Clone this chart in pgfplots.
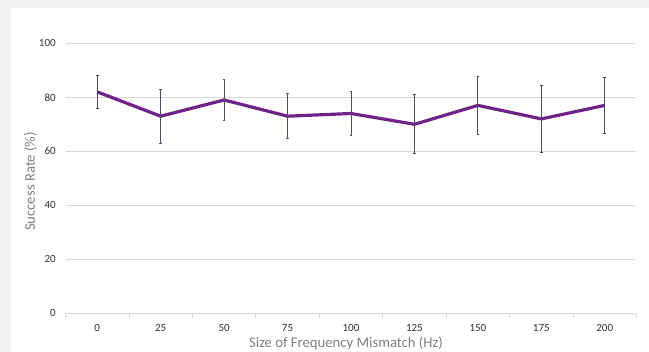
\documentclass[border=0pt]{standalone}
\usepackage{pgfplots}
\pgfplotsset{compat=1.18}
\usepackage{fontspec}
\setmainfont{Carlito}
\definecolor{bggray}{RGB}{242,242,242}
\definecolor{gridgray}{RGB}{217,217,217}
\definecolor{linepurple}{RGB}{112,34,139}
\definecolor{errcol}{RGB}{70,80,95}
\definecolor{ticktext}{RGB}{50,50,50}
\definecolor{titletext}{RGB}{128,128,128}
\begin{document}
\begin{tikzpicture}[x=1pt,y=1pt]
\useasboundingbox (0,0) rectangle (649,352);
\fill[bggray] (0,0) rectangle (649,352);
\fill[white] (11,0) rectangle (649,344);
\begin{axis}[
  at={(65.5pt,38.7pt)}, anchor=south west,
  scale only axis, width=571pt, height=270pt,
  xmin=-0.5, xmax=8.5, ymin=0, ymax=100,
  axis x line*=bottom, axis y line*=left,
  x axis line style={gridgray, line width=0.8pt, -},
  y axis line style={draw=none},
  xtick={0,...,8},
  xticklabels={0,25,50,75,100,125,150,175,200},
  major x tick style={draw=none},
  minor xtick={-0.5,0.5,...,8.5},
  minor x tick style={gridgray, line width=0.8pt},
  minor tick length=5pt,
  tick align=outside,
  ytick={0,20,...,100},
  ymajorgrids, major grid style={gridgray, line width=0.8pt},
  y tick style={draw=none},
  tick label style={font=\fontsize{11}{13}\selectfont, text=ticktext},
  /pgf/number format/assume math mode=true,
  xticklabel style={yshift=-3pt},
  yticklabel style={xshift=-2pt},
  xlabel={Size of Frequency Mismatch (Hz)},
  ylabel={Success Rate (\%)},
  label style={font=\fontsize{14.7}{16}\selectfont, text=titletext},
  xlabel style={at={(axis description cs:0.5,0)}, anchor=center, yshift=-29.7pt, xshift=-5pt},
  ylabel style={at={(axis description cs:-0.0613,0.488)}, anchor=center, rotate=0},
  clip=false,
]
\addplot[linepurple, line width=3.2pt, line join=round,
  error bars/.cd, y dir=both, y explicit,
  error bar style={errcol, line width=0.9pt},
  error mark options={errcol, line width=0.9pt, mark size=1.3pt, rotate=90}]
  coordinates {
  (0,82) +- (0,6)
  (1,73) +- (0,10)
  (2,79) +- (0,7.5)
  (3,73) +- (0,8.3)
  (4,74) +- (0,8.1)
  (5,70) +- (0,10.9)
  (6,77) +- (0,10.9)
  (7,72) +- (0,12.4)
  (8,77) +- (0,10.3)
  };
\end{axis}
\end{tikzpicture}
\end{document}
